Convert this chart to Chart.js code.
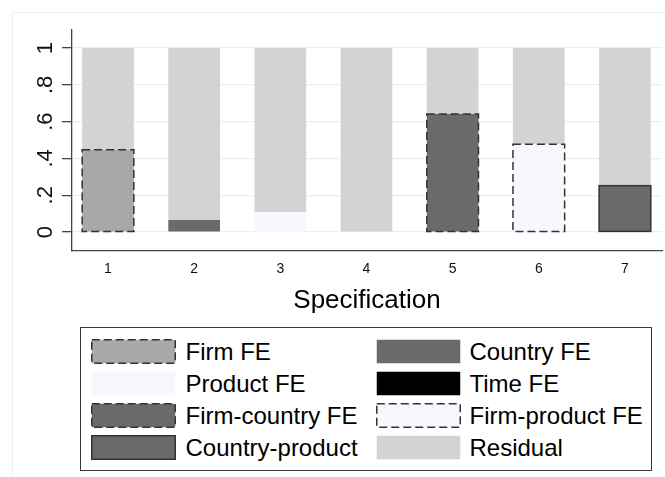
<!DOCTYPE html>
<html><head><meta charset="utf-8">
<script src="https://cdn.jsdelivr.net/npm/chart.js@4"></script>
<style>
html,body{margin:0;padding:0;background:#fff;}
#wrap{position:relative;width:665px;height:477px;overflow:hidden;font-family:'Liberation Sans',Arial,sans-serif;}
#frame{position:absolute;left:12px;top:12px;width:720px;height:520px;border:1px solid #eef1f3;}
#c{position:absolute;left:0;top:0;}
#legend{position:absolute;left:80px;top:327px;width:572px;height:144px;border:1.5px solid #3a3a3a;box-sizing:border-box;background:#fff;}
.item{position:absolute;height:25px;display:flex;align-items:center;}
.sw{width:85px;height:25px;flex:none;display:block;}
.lab{margin-left:10px;font-size:24px;color:#000;white-space:nowrap;line-height:25px;}
</style>
</head><body>
<div id="wrap">
<div id="frame"></div>
<canvas id="c" width="665" height="477"></canvas>
<div id="legend"></div>
</div>
<script>
// ---- data ----
const specs = [1, 2, 3, 4, 5, 6, 7];
const xTickLabels = ['1', '2', '3', '4', '5', '6', '7'];
const yTicks = [0, 0.2, 0.4, 0.6, 0.8, 1];
const yTickLabels = ['0', '.2', '.4', '.6', '.8', '1'];
const xTitle = 'Specification';

const firmFE         = [0.447, null, null, null, null, null, null];
const countryFE      = [null, 0.065, null, null, null, null, null];
const productFE      = [null, null, 0.107, null, null, null, null];
const timeFE         = [null, null, null, null, null, null, null];
const firmCountryFE  = [null, null, null, null, 0.641, null, null];
const firmProductFE  = [null, null, null, null, null, 0.477, null];
const countryProduct = [null, null, null, null, null, null, 0.252];
const residual       = [0.553, 0.935, 0.893, 1.0, 0.359, 0.523, 0.748];

const seriesNames = ['Firm FE', 'Country FE', 'Product FE', 'Time FE',
  'Firm-country FE', 'Firm-product FE', 'Country-product', 'Residual'];
const seriesValues = [firmFE, countryFE, productFE, timeFE,
  firmCountryFE, firmProductFE, countryProduct, residual];
const seriesColors = ['#a8a8a8', '#6a6a6a', '#f7f8fd', '#000000',
  '#6a6a6a', '#f7f8fd', '#6a6a6a', '#d3d3d3'];
const seriesOutline = ['dash', 'none', 'none', 'none', 'dash', 'dash', 'solid', 'none'];

// ---- chart ----
const outlinePlugin = {
  id: 'outline',
  afterDatasetsDraw(chart) {
    const ctx = chart.ctx;
    chart.data.datasets.forEach((ds, di) => {
      const st = seriesOutline[di];
      if (st === 'none') return;
      const meta = chart.getDatasetMeta(di);
      meta.data.forEach((bar, i) => {
        if (ds.data[i].y == null) return;
        const p = bar.getProps(['x', 'y', 'base', 'width'], true);
        ctx.save();
        ctx.strokeStyle = '#333';
        ctx.lineWidth = 1.5;
        ctx.setLineDash(st === 'dash' ? [8, 4] : []);
        ctx.strokeRect(p.x - p.width / 2, Math.min(p.y, p.base), p.width, Math.abs(p.base - p.y));
        ctx.restore();
      });
    });
  }
};

const datasets = seriesNames.map((name, k) => ({
  label: name,
  data: specs.map((s, i) => ({ x: s, y: seriesValues[k][i] })),
  backgroundColor: seriesColors[k],
  borderWidth: 0,
  categoryPercentage: 1,
  barPercentage: 0.6
}));

Chart.defaults.font.family = "'Liberation Sans', Arial, sans-serif";
new Chart(document.getElementById('c'), {
  type: 'bar',
  data: { datasets },
  options: {
    responsive: false,
    animation: false,
    devicePixelRatio: 1,
    layout: { padding: { left: 0, top: 30, right: 3, bottom: 156 } },
    plugins: { legend: { display: false }, tooltip: { enabled: false } },
    scales: {
      x: {
        type: 'linear', stacked: true, offset: false, min: 0.582, max: 7.43,
        afterBuildTicks: s => { s.ticks = specs.map(v => ({ value: v })); },
        afterFit: s => { s.height = 70; },
        ticks: { callback: (v, i) => xTickLabels[i], maxRotation: 0, padding: 10,
          font: { size: 14 }, color: '#111' },
        grid: { display: false, drawTicks: false, offset: false },
        border: { display: true, color: '#444', width: 1.3 },
        title: { display: true, text: xTitle, font: { size: 26 }, color: '#000',
          padding: { top: 0, bottom: 5 } }
      },
      y: {
        type: 'linear', stacked: true, min: -0.103, max: 1.098,
        afterBuildTicks: s => { s.ticks = yTicks.map(v => ({ value: v })); },
        afterFit: s => { s.width = 72; },
        ticks: { callback: (v, i) => yTickLabels[i], minRotation: 90, maxRotation: 90,
          crossAlign: 'center', padding: 7, font: { size: 22 }, color: '#111' },
        grid: { color: '#e8eff1', lineWidth: 1.3, tickLength: 10, tickColor: '#444', tickWidth: 1.3 },
        border: { display: true, color: '#444', width: 1.3 }
      }
    }
  },
  plugins: [outlinePlugin]
});

// ---- legend (two columns, row-wise order) ----
const SVGNS = 'http://www.w3.org/2000/svg';
const leg = document.getElementById('legend');
seriesNames.forEach((name, k) => {
  const col = k % 2, row = Math.floor(k / 2);
  const it = document.createElement('div');
  it.className = 'item';
  it.style.left = (col === 0 ? 9.5 : 294.5) + 'px';
  it.style.top = (10.5 + row * 32) + 'px';
  const sw = document.createElementNS(SVGNS, 'svg');
  sw.setAttribute('class', 'sw');
  sw.setAttribute('width', '85'); sw.setAttribute('height', '25');
  const r = document.createElementNS(SVGNS, 'rect');
  r.setAttribute('x', '0.75'); r.setAttribute('y', '0.75');
  r.setAttribute('width', '83.5'); r.setAttribute('height', '23.5');
  r.setAttribute('fill', seriesColors[k]);
  if (seriesOutline[k] !== 'none') {
    r.setAttribute('stroke', '#333');
    r.setAttribute('stroke-width', '1.5');
    if (seriesOutline[k] === 'dash') r.setAttribute('stroke-dasharray', '8 4');
  }
  sw.appendChild(r);
  const lab = document.createElement('span');
  lab.className = 'lab';
  lab.textContent = name;
  if (col === 1) lab.style.marginLeft = '9px';
  it.appendChild(sw); it.appendChild(lab);
  leg.appendChild(it);
});
</script>
</body></html>
